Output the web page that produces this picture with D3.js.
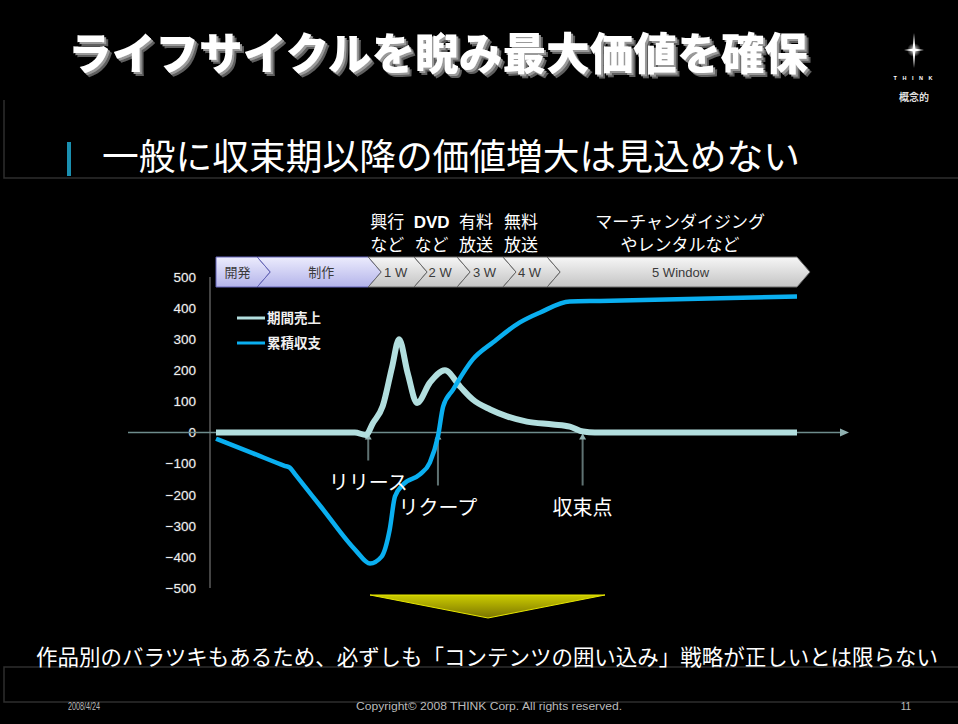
<!DOCTYPE html>
<html><head><meta charset="utf-8">
<script src="https://cdn.jsdelivr.net/npm/d3@7"></script>
<style>
html,body{margin:0;padding:0;background:#000;}
svg{display:block;}
</style></head>
<body>
<svg id="c" width="958" height="724"></svg>
<script>
// ---- data ----
const yTicks = [500, 400, 300, 200, 100, 0, -100, -200, -300, -400, -500];
const seriesNames = ["期間売上", "累積収支"];
// period sales (time t, value)
const salesT = [0, 23.9, 25.8, 27.0, 28.7, 30.3, 31.5, 33.0, 34.6, 36.8, 39.4, 42.0, 44.2, 47.2, 50.1, 53.5, 58.0, 60.9, 63.2, 65.2, 100];
const salesV = [0, 0, -8, 30, 85, 210, 300, 190, 95, 160, 200, 148, 106, 74, 52, 35, 26, 19, 3, 0, 0];
// cumulative balance
const cumT = [0, 6.4, 11.8, 12.7, 13.6, 18.2, 24.0, 26.5, 28.5, 29.9, 30.8, 32.2, 35.1, 36.8, 38.2, 39.1, 40.8, 44.2, 47.7, 52.3, 55.8, 60.9, 66.1, 100];
const cumV = [-20, -67, -107, -113, -134, -242, -378, -421, -399, -312, -206, -167, -135, -97, -13, 84, 138, 235, 290, 354, 386, 421, 423, 437];
// phases of the window chevron
const phaseNames = ["開発", "制作", "1 W", "2 W", "3 W", "4 W", "5 Window"];
const phaseStart = [0, 7.1, 26.2, 34.1, 41.5, 49.4, 57.0];
const phaseEnd = 100;
const phaseKind = ["dev", "dev", "win", "win", "win", "win", "win"];
// window annotations above chevron
const windowNotes = [["興行", "など"], ["DVD", "など"], ["有料", "放送"], ["無料", "放送"], ["マーチャンダイジング", "やレンタルなど"]];
// event markers
const markerNames = ["リリース", "リクープ", "収束点"];
const markerT = [26.2, 38.2, 63.1];

// ---- layout ----
const svg = d3.select("#c");
const x = d3.scaleLinear().domain([0, 100]).range([216, 797]);
const y = d3.scaleLinear().domain([-500, 500]).range([588, 277]);
const JP = "'Noto Sans CJK JP','Noto Sans',sans-serif";
const AR = "'Liberation Sans',Arial,sans-serif";

const defs = svg.append("defs");
const gDev = defs.append("linearGradient").attr("id","gDev").attr("x1",0).attr("y1",0).attr("x2",0).attr("y2",1);
gDev.append("stop").attr("offset","0%").attr("stop-color","#ececfd");
gDev.append("stop").attr("offset","100%").attr("stop-color","#b4b4ea");
const gWin = defs.append("linearGradient").attr("id","gWin").attr("x1",0).attr("y1",0).attr("x2",0).attr("y2",1);
gWin.append("stop").attr("offset","0%").attr("stop-color","#f6f6f6");
gWin.append("stop").attr("offset","100%").attr("stop-color","#c4c4c4");
const gTri = defs.append("linearGradient").attr("id","gTri").attr("x1",0).attr("y1",0).attr("x2",0).attr("y2",1);
gTri.append("stop").attr("offset","0%").attr("stop-color","#cccc00");
gTri.append("stop").attr("offset","100%").attr("stop-color","#7a7400");
const gStar = defs.append("radialGradient").attr("id","gStar");
gStar.append("stop").attr("offset","0%").attr("stop-color","#fff").attr("stop-opacity",0.9);
gStar.append("stop").attr("offset","100%").attr("stop-color","#fff").attr("stop-opacity",0);
// bevel shadow filter for title
const f = defs.append("filter").attr("id","bevel").attr("x","-5%").attr("y","-20%").attr("width","110%").attr("height","140%");
f.append("feOffset").attr("in","SourceAlpha").attr("dx",3.5).attr("dy",3.5).attr("result","o1");
f.append("feFlood").attr("flood-color","#5e5e5e").attr("result","c1");
f.append("feComposite").attr("in","c1").attr("in2","o1").attr("operator","in").attr("result","s1");
f.append("feOffset").attr("in","SourceAlpha").attr("dx",2).attr("dy",2).attr("result","o2");
f.append("feFlood").attr("flood-color","#9a9a9a").attr("result","c2");
f.append("feComposite").attr("in","c2").attr("in2","o2").attr("operator","in").attr("result","s2");
const fm = f.append("feMerge");
fm.append("feMergeNode").attr("in","s1");
fm.append("feMergeNode").attr("in","s2");
fm.append("feMergeNode").attr("in","SourceGraphic");

// frame lines
svg.append("path").attr("d","M4,100 V178 H958").attr("fill","none").attr("stroke","#2e2e2e").attr("stroke-width",1.5);
svg.append("path").attr("d","M958,667 H4 V702 H958").attr("fill","none").attr("stroke","#2e2e2e").attr("stroke-width",1.5);

// title with bevel shadow
svg.append("text").attr("x",68).attr("y",70).text("ライフサイクルを睨み最大価値を確保")
  .attr("font-family",JP).attr("font-weight",900).attr("font-size",44)
  .attr("textLength",740).attr("lengthAdjust","spacingAndGlyphs").attr("fill","#fff")
  .attr("filter","url(#bevel)");

// subtitle
svg.append("rect").attr("x",67).attr("y",142).attr("width",4).attr("height",34).attr("fill","#1a8fb0");
svg.append("text").attr("x",102).attr("y",170).text("一般に収束期以降の価値増大は見込めない")
  .attr("font-family",JP).attr("font-size",36).attr("fill","#fff")
  .attr("textLength",698).attr("lengthAdjust","spacingAndGlyphs");

// logo
const lg = svg.append("g").attr("transform","translate(914,50)");
lg.append("circle").attr("r",7).attr("fill","url(#gStar)");
lg.append("path").attr("d","M0,-17 L1.3,-1.3 L10,0 L1.3,1.3 L0,18 L-1.3,1.3 L-10,0 L-1.3,-1.3 Z").attr("fill","#fff");
svg.append("text").attr("x",914).attr("y",80).attr("text-anchor","middle").text("T H I N K")
  .attr("font-family",AR).attr("font-weight","bold").attr("font-size",5.5).attr("letter-spacing",2).attr("fill","#fff");
svg.append("text").attr("x",914).attr("y",101).attr("text-anchor","middle").text("概念的")
  .attr("font-family",JP).attr("font-size",10).attr("font-weight","bold").attr("fill","#ddd");

// window notes
const noteCenters = [0, 1, 2, 3].map(i => (x(phaseStart[i+2]) + x(i+3 < phaseStart.length ? phaseStart[i+3] : phaseEnd)) / 2);
noteCenters.push((x(phaseStart[6]) + x(phaseEnd)) / 2 + 8);
windowNotes.forEach((n, i) => {
  n.forEach((line, j) => {
    svg.append("text").attr("x", noteCenters[i] + (i < 4 ? -4 : 0)).attr("y", 228 + j*23)
      .attr("text-anchor","middle").text(line)
      .attr("font-family", line === "DVD" ? AR : JP)
      .attr("font-weight", line === "DVD" ? "bold" : "normal")
      .attr("font-size", 17).attr("fill","#fff");
  });
});

// chevron bar
const barTop = 257, barBot = 287, barMid = (barTop+barBot)/2, dep = 13;
const bar = svg.append("g");
phaseNames.forEach((name, i) => {
  const xs = x(phaseStart[i]);
  const xe = i+1 < phaseStart.length ? x(phaseStart[i+1]) : x(phaseEnd);
  const pts = [[xs,barTop],[xe,barTop],[xe+dep,barMid],[xe,barBot],[xs,barBot]];
  if (i > 0) pts.push([xs+dep, barMid]);
  const dev = phaseKind[i] === "dev";
  bar.append("path").attr("d", "M" + pts.map(p => p.join(",")).join("L") + "Z")
    .attr("fill", dev ? "url(#gDev)" : "url(#gWin)")
    .attr("stroke", dev ? "#6464b8" : "#6a6a6a").attr("stroke-width", 1);
  const cx = i === 0 ? (xs + xe)/2 + 1 : (i === 1 || i === 6 ? (xs + dep + xe)/2 + 2 : (xs + dep + xe)/2 - 2);
  bar.append("text").attr("x", cx).attr("y", barMid + 5).attr("text-anchor","middle").text(name)
    .attr("font-family", /[A-Z0-9]/.test(name) ? AR : JP).attr("font-size", 13).attr("fill","#3a3a3a");
});

// axes
svg.append("line").attr("x1",210).attr("x2",210).attr("y1",y(500)).attr("y2",y(-500))
  .attr("stroke","#444").attr("stroke-width",2);
const yAxis = d3.axisLeft(y).tickValues(yTicks).tickSize(0).tickPadding(14).tickFormat(d3.format("d"));
const ya = svg.append("g").attr("transform","translate(210,0)").call(yAxis);
ya.select(".domain").remove();
ya.selectAll("text").attr("font-family",AR).attr("font-size",13.5).attr("fill","#f0f0f0")
  .attr("style","paint-order:stroke;stroke:#333;stroke-width:1px");

// zero line with arrow
svg.append("line").attr("x1",128).attr("x2",842).attr("y1",y(0)).attr("y2",y(0))
  .attr("stroke","#6e8c8c").attr("stroke-width",1.5);
svg.append("path").attr("d",`M840,${y(0)-4} L849,${y(0)} L840,${y(0)+4} Z`).attr("fill","#8fb0b0");

// markers
const markerLen = [28, 53, 53];
const labelY = [490, 515, 515];
markerT.forEach((t, i) => {
  const mx = x(t), y0 = y(0);
  svg.append("line").attr("x1",mx).attr("x2",mx).attr("y1",y0+3).attr("y2",y0+markerLen[i])
    .attr("stroke","#5f7272").attr("stroke-width",2);
  svg.append("path").attr("d",`M${mx-3.5},${y0+7} L${mx},${y0+1} L${mx+3.5},${y0+7} Z`).attr("fill","#93b4b4");
});

// lines
const line = d3.line().x(d => x(d[0])).y(d => y(d[1])).curve(d3.curveMonotoneX);
const sales = salesT.map((t,i) => [t, salesV[i]]);
const cum = cumT.map((t,i) => [t, cumV[i]]);
const colors = ["#b2dede", "#0aaff0"];
svg.append("path").datum(sales).attr("d",line).attr("fill","none")
  .attr("stroke",colors[0]).attr("stroke-width",6).attr("stroke-linejoin","round");
svg.append("path").datum(cum).attr("d",line).attr("fill","none")
  .attr("stroke",colors[1]).attr("stroke-width",4.5).attr("stroke-linejoin","round");

// marker labels (over lines)
markerT.forEach((t, i) => {
  svg.append("text").attr("x",x(t)).attr("y",labelY[i]).attr("text-anchor","middle").text(markerNames[i])
    .attr("font-family",JP).attr("font-size",20).attr("fill","#fff");
});

// legend
seriesNames.forEach((n, i) => {
  const ly = 318 + i*25;
  svg.append("line").attr("x1",237).attr("x2",265).attr("y1",ly).attr("y2",ly)
    .attr("stroke",colors[i]).attr("stroke-width",3);
  svg.append("text").attr("x",267).attr("y",ly+5).text(n)
    .attr("font-family",JP).attr("font-weight","bold").attr("font-size",13.5).attr("fill","#f0f0f0");
});

// yellow triangle
svg.append("path").attr("d","M370,595 L605,595 L488,618 Z").attr("fill","url(#gTri)")
  .attr("stroke","#e6e600").attr("stroke-width",1);

// conclusion
svg.append("text").attr("x",36).attr("y",665)
  .text("作品別のバラツキもあるため、必ずしも「コンテンツの囲い込み」戦略が正しいとは限らない")
  .attr("font-family",JP).attr("font-size",21.5).attr("fill","#fff")
  .attr("textLength",902).attr("lengthAdjust","spacingAndGlyphs");

// footer
svg.append("text").attr("x",68).attr("y",710).text("2008/4/24")
  .attr("font-family",AR).attr("font-size",10).attr("fill","#bbb").attr("textLength",32).attr("lengthAdjust","spacingAndGlyphs");
svg.append("text").attr("x",489).attr("y",710).attr("text-anchor","middle").text("Copyright© 2008 THINK Corp. All rights reserved.")
  .attr("font-family",AR).attr("font-size",10).attr("fill","#bbb").attr("textLength",266).attr("lengthAdjust","spacingAndGlyphs");
svg.append("text").attr("x",906).attr("y",710).attr("text-anchor","middle").text("11")
  .attr("font-family",AR).attr("font-size",10).attr("fill","#bbb");
</script>
</body></html>
